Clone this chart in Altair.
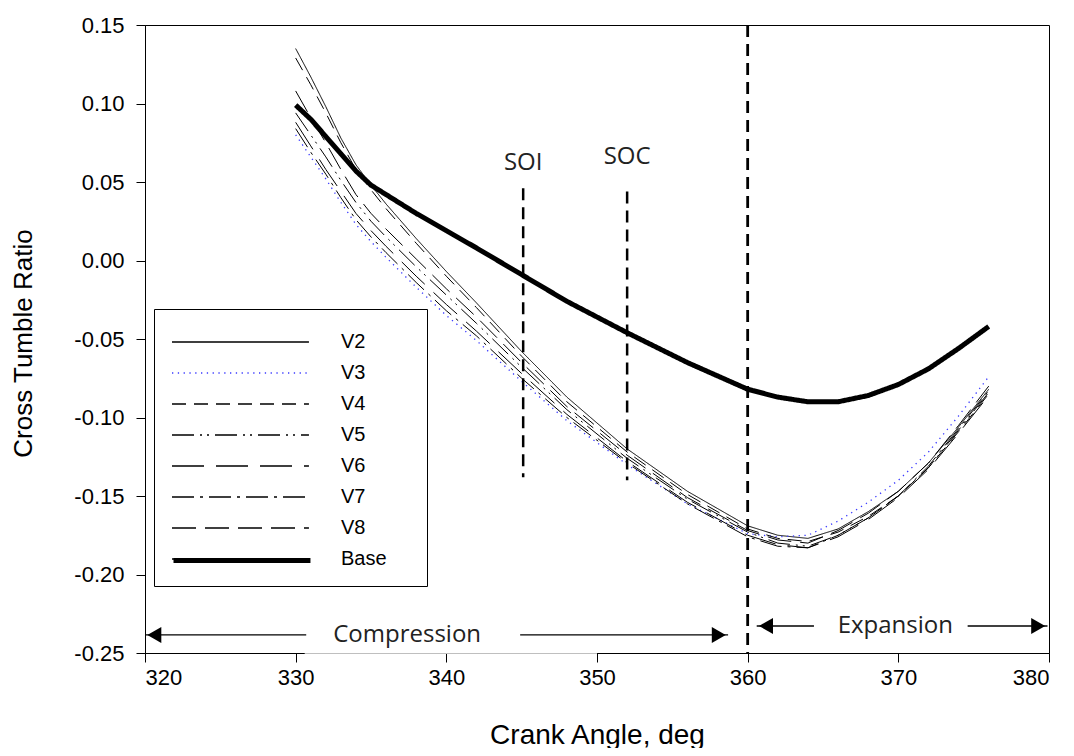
import altair as alt
import pandas as pd

# ---------------- data ----------------
angles = [330, 331, 332, 333, 334, 335, 336, 338, 340, 342, 345, 348, 352, 356,
          360, 362, 364, 366, 368, 370, 372, 374, 376]

v2 = [0.135, 0.117, 0.098, 0.078, 0.061, 0.048, 0.036, 0.014, -0.007, -0.027, -0.058,
      -0.087, -0.120, -0.147, -0.169, -0.175, -0.177, -0.171, -0.160, -0.147, -0.129, -0.106, -0.082]
v3 = [0.080, 0.066, 0.052, 0.037, 0.023, 0.012, 0.002, -0.017, -0.035, -0.051, -0.077,
      -0.102, -0.130, -0.155, -0.174, -0.176, -0.175, -0.166, -0.154, -0.140, -0.122, -0.099, -0.074]
v4 = [0.129, 0.112, 0.094, 0.075, 0.058, 0.045, 0.033, 0.011, -0.010, -0.030, -0.061,
      -0.090, -0.122, -0.149, -0.171, -0.177, -0.179, -0.173, -0.163, -0.150, -0.132, -0.109, -0.085]
v5 = [0.094, 0.080, 0.066, 0.051, 0.037, 0.025, 0.015, -0.004, -0.022, -0.040, -0.068,
      -0.095, -0.126, -0.152, -0.173, -0.180, -0.182, -0.175, -0.164, -0.150, -0.132, -0.108, -0.084]
v6 = [0.088, 0.073, 0.058, 0.044, 0.030, 0.019, 0.009, -0.010, -0.028, -0.045, -0.072,
      -0.098, -0.128, -0.154, -0.175, -0.181, -0.183, -0.176, -0.165, -0.151, -0.133, -0.110, -0.086]
v7 = [0.084, 0.069, 0.055, 0.040, 0.026, 0.015, 0.005, -0.014, -0.032, -0.048, -0.075,
      -0.100, -0.129, -0.155, -0.176, -0.182, -0.183, -0.175, -0.164, -0.150, -0.131, -0.107, -0.083]
v8 = [0.108, 0.091, 0.075, 0.058, 0.042, 0.030, 0.020, 0.001, -0.018, -0.036, -0.065,
      -0.093, -0.124, -0.151, -0.172, -0.178, -0.180, -0.172, -0.161, -0.147, -0.129, -0.105, -0.080]
base = [0.099, 0.090, 0.079, 0.068, 0.057, 0.048, 0.042, 0.030, 0.019, 0.008, -0.009,
        -0.026, -0.046, -0.065, -0.082, -0.087, -0.090, -0.090, -0.086, -0.079, -0.069, -0.056, -0.042]

series_names = ["V2", "V3", "V4", "V5", "V6", "V7", "V8", "Base"]
series_values = [v2, v3, v4, v5, v6, v7, v8, base]
series_colors = ["#000000", "#3a3aff", "#000000", "#000000", "#000000", "#000000", "#000000", "#000000"]
series_dash = [[1, 0], [1.3, 4.5], [14, 8], [22, 6, 2, 5, 2, 6], [32, 12], [22, 6, 3, 6], [24, 9], [1, 0]]
series_width = [1, 1.3, 1, 1, 1, 1, 1, 5]

x_ticks = [320, 330, 340, 350, 360, 370, 380]
y_ticks = [-0.25, -0.20, -0.15, -0.10, -0.05, 0.0, 0.05, 0.10, 0.15]

# event markers (SOI, SOC) and TDC line
event_labels = ["SOI", "SOC"]
event_x = [345.1, 352.0]
event_top = [0.046, 0.044]
event_bottom = [-0.138, -0.140]
event_text_y = [0.062, 0.066]
tdc_x = [360.0]

# phase arrows
arrow_x1 = [320.0, 344.9, 360.6, 374.6]
arrow_x2 = [330.7, 358.7, 364.4, 379.9]
arrow_y = [-0.2385, -0.2385, -0.2328, -0.2328]
head_left_x = [320.0, 360.6]
head_left_y = [-0.2385, -0.2328]
head_right_x = [358.7, 379.9]
head_right_y = [-0.2385, -0.2328]
phase_labels = ["Compression", "Expansion"]
phase_x = [337.4, 369.8]
phase_y = [-0.2385, -0.2328]

# -------------- frames --------------
rows = []
for name, vals, w in zip(series_names, series_values, series_width):
    for a, v in zip(angles, vals):
        rows.append({"angle": a, "ratio": v, "series": name, "w": w})
df = pd.DataFrame(rows)

ev_df = pd.DataFrame({"label": event_labels, "x": event_x, "top": event_top,
                      "bottom": event_bottom, "ty": event_text_y})
tdc_df = pd.DataFrame({"x": tdc_x, "top": [0.15], "bottom": [-0.25]})
arr_df = pd.DataFrame({"x1": arrow_x1, "x2": arrow_x2, "y": arrow_y})
hl_df = pd.DataFrame({"x": head_left_x, "y": head_left_y})
hr_df = pd.DataFrame({"x": head_right_x, "y": head_right_y})
ph_df = pd.DataFrame({"label": phase_labels, "x": phase_x, "y": phase_y})
mask_df = pd.DataFrame({"x1": [330.6], "x2": [350.0], "y1": [-0.2455], "y2": [-0.2504]})
thick_df = pd.DataFrame({"k": ["Base"], "angle": [330], "ratio": [0.0]})

xscale = alt.Scale(domain=[320, 380], nice=False, zero=False)
yscale = alt.Scale(domain=[-0.25, 0.15], nice=False, zero=False)

SYMBOL = "M-1,0H8.13"
ROW = 31
leg = alt.Legend(
    title=".", titleOrient="right", titleColor="white", titleFontSize=20,
    titlePadding=17, titleFont="Liberation Sans",
    orient="none", legendX=9, legendY=284,
    strokeColor="black", fillColor="white", padding=17,
    symbolType=SYMBOL, symbolSize=900, labelOffset=138,
    labelFont="Liberation Sans", labelFontSize=20, labelColor="black",
    rowPadding=5,
)
# overlay legend that thickens the Base symbol
leg_thick = alt.Legend(
    title=None, orient="none", legendX=9, legendY=284 + 7 * ROW,
    padding=17, symbolType=SYMBOL, symbolSize=900, labelOffset=138,
    symbolStrokeWidth=5, symbolStrokeColor="black", symbolFillColor="transparent",
    symbolOpacity=1, labelFont="Liberation Sans", labelFontSize=20,
    labelExpr="''", rowPadding=5,
)

lines = alt.Chart(df).mark_line().encode(
    x=alt.X("angle:Q", scale=xscale,
            axis=alt.Axis(values=x_ticks, title="Crank Angle, deg", grid=False,
                          labelFont="Liberation Sans", labelFontSize=22,
                          titleFont="Liberation Sans", titleFontSize=28,
                          titleFontWeight="normal", tickSize=9, labelPadding=5,
                          titleX=452, titleY=82, titleBaseline="middle")),
    y=alt.Y("ratio:Q", scale=yscale,
            axis=alt.Axis(values=y_ticks, title="Cross Tumble Ratio", grid=False,
                          labelExpr="(datum.value < -0.0001 ? '-' : '') + format(abs(datum.value), '.2f')",
                          labelFont="Liberation Sans", labelFontSize=22,
                          titleFont="Liberation Sans", titleFontSize=26,
                          titleFontWeight="normal", tickSize=9, labelPadding=12,
                          titleX=-122, titleY=318, titleBaseline="middle", titleAngle=-90)),
    color=alt.Color("series:N", scale=alt.Scale(domain=series_names, range=series_colors), legend=leg),
    strokeDash=alt.StrokeDash("series:N", scale=alt.Scale(domain=series_names, range=series_dash), legend=leg),
    strokeWidth=alt.StrokeWidth("w:Q", scale=None, legend=None),
)

thick = alt.Chart(thick_df).mark_point(opacity=0).encode(
    x=alt.X("angle:Q", scale=xscale), y=alt.Y("ratio:Q", scale=yscale),
    shape=alt.Shape("k:N", scale=alt.Scale(domain=["Base"], range=[SYMBOL]), legend=leg_thick),
)

ev_rules = alt.Chart(ev_df).mark_rule(color="black", strokeWidth=2.5, strokeDash=[12, 7]).encode(
    x=alt.X("x:Q", scale=xscale), y=alt.Y("top:Q", scale=yscale), y2="bottom:Q")
ev_text = alt.Chart(ev_df).mark_text(font="Open Sans", fontSize=24, color="#222222",
                                     baseline="middle", align="center").encode(
    x=alt.X("x:Q", scale=xscale), y=alt.Y("ty:Q", scale=yscale), text="label:N")
tdc_rule = alt.Chart(tdc_df).mark_rule(color="black", strokeWidth=2.8, strokeDash=[12, 7]).encode(
    x=alt.X("x:Q", scale=xscale), y=alt.Y("top:Q", scale=yscale), y2="bottom:Q")

mask = alt.Chart(mask_df).mark_rect(color="white").encode(
    x=alt.X("x1:Q", scale=xscale), x2="x2:Q", y=alt.Y("y1:Q", scale=yscale), y2="y2:Q")
arrows = alt.Chart(arr_df).mark_rule(color="black", strokeWidth=1.3).encode(
    x=alt.X("x1:Q", scale=xscale), x2="x2:Q", y=alt.Y("y:Q", scale=yscale))
heads_l = alt.Chart(hl_df).mark_point(shape="triangle-left", filled=True, size=260,
                                      color="black", opacity=1, xOffset=9.3).encode(
    x=alt.X("x:Q", scale=xscale), y=alt.Y("y:Q", scale=yscale))
heads_r = alt.Chart(hr_df).mark_point(shape="triangle-right", filled=True, size=260,
                                      color="black", opacity=1, xOffset=-9.3).encode(
    x=alt.X("x:Q", scale=xscale), y=alt.Y("y:Q", scale=yscale))
ph_text = alt.Chart(ph_df).mark_text(font="Open Sans", fontSize=24, color="#222222",
                                     baseline="middle", align="center").encode(
    x=alt.X("x:Q", scale=xscale), y=alt.Y("y:Q", scale=yscale), text="label:N")

chart = alt.layer(
    mask, lines, thick, ev_rules, tdc_rule, ev_text, arrows, heads_l, heads_r, ph_text
).properties(
    width=904, height=628,
    autosize=alt.AutoSizeParams(type="none"),
    padding={"left": 137, "top": 17, "right": 17, "bottom": 95},
).configure_view(
    stroke="black", strokeWidth=1
).configure_axis(
    domainColor="black", tickColor="black", labelColor="black", titleColor="black",
    domainWidth=1, tickWidth=1
)

chart.save("out.html", embed_options={"renderer": "svg", "actions": False})
